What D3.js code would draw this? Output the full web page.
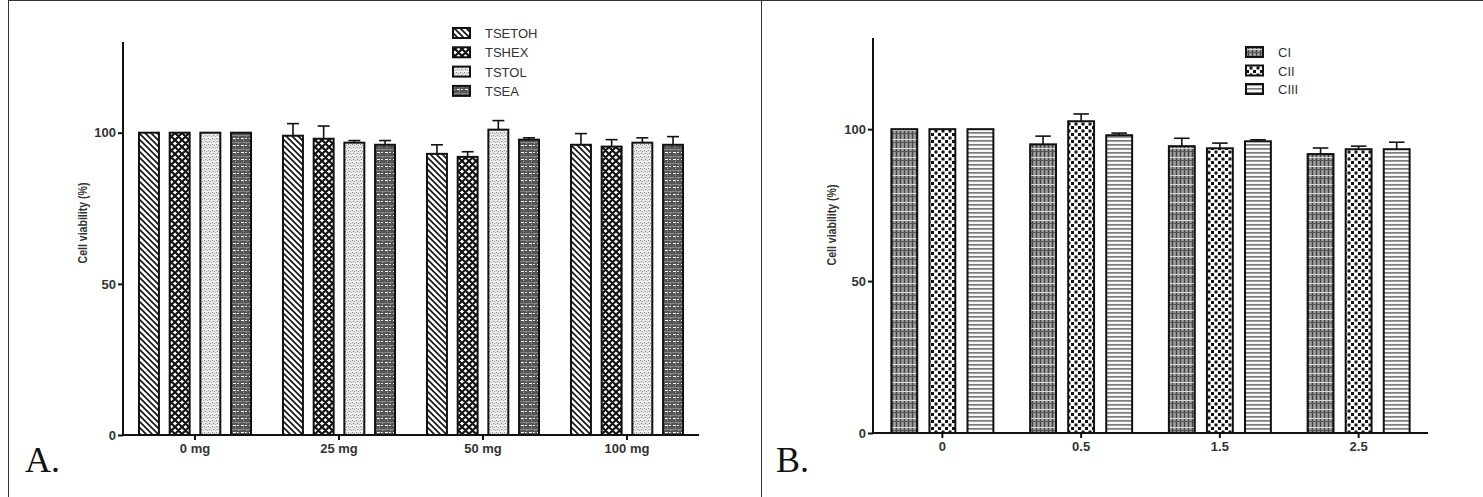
<!DOCTYPE html>
<html><head><meta charset="utf-8">
<script src="https://cdn.jsdelivr.net/npm/d3@7/dist/d3.min.js"></script>
<style>body{margin:0;background:#fff;}svg{display:block;}</style>
</head><body>
<svg id="chart" width="1483" height="497"></svg>
<script>
// ---- Panel A data ----
const groupsA = ["0 mg", "25 mg", "50 mg", "100 mg"];
const seriesA = ["TSETOH", "TSHEX", "TSTOL", "TSEA"];
const tsetohMean = [100, 99, 93, 96];
const tsetohErr  = [0, 4, 3, 3.7];
const tshexMean  = [100, 98, 92, 95.4];
const tshexErr   = [0, 4.2, 1.7, 2.3];
const tstolMean  = [100, 96.7, 101, 96.7];
const tstolErr   = [0, 0.7, 3, 1.6];
const tseaMean   = [100, 96, 97.7, 96];
const tseaErr    = [0, 1.4, 0.6, 2.7];
// ---- Panel B data ----
const groupsB = ["0", "0.5", "1.5", "2.5"];
const seriesB = ["CI", "CII", "CIII"];
const ciMean   = [100, 95, 94.4, 91.8];
const ciErr    = [0, 2.7, 2.6, 2];
const ciiMean  = [100, 102.6, 93.7, 93.4];
const ciiErr   = [0, 2.4, 1.7, 1];
const ciiiMean = [100, 98, 96, 93.4];
const ciiiErr  = [0, 0.7, 0.5, 2.3];
const yTicks = [0, 50, 100];
const yLabel = "Cell viability (%)";

const svg = d3.select("#chart");
const defs = svg.append("defs");
const FONT = "Liberation Sans, Arial, sans-serif";

function pat(id, w, h, build) {
  const p = defs.append("pattern").attr("id", id).attr("patternUnits", "userSpaceOnUse")
    .attr("width", w).attr("height", h);
  build(p);
}
function px(p, x, y, w, h, c) {
  p.append("rect").attr("x", x).attr("y", y).attr("width", w).attr("height", h).attr("fill", c);
}
// TSETOH: diagonal "\" lines
pat("p-tsetoh", 6, 6, p => {
  px(p, 0, 0, 6, 6, "#fff");
  p.append("path").attr("d", "M-1,-1 L7,7 M-1,5 L1,7 M5,-1 L7,1").attr("stroke", "#111").attr("stroke-width", 1.6);
});
// TSHEX: crosshatch diamonds
pat("p-tshex", 7, 7, p => {
  px(p, 0, 0, 7, 7, "#fff");
  p.append("path").attr("d", "M-1,-1 L8,8 M-1,6 L1,8 M6,-1 L8,1 M8,-1 L-1,8 M1,-1 L-1,1 M8,6 L6,8")
    .attr("stroke", "#111").attr("stroke-width", 2.2);
});
// TSTOL: light grey fine dots
pat("p-tstol", 4, 6, p => {
  px(p, 0, 0, 4, 6, "#e4e4e4");
  px(p, 0, 0, 1, 1, "#8a8a8a");
  px(p, 2, 1, 1, 1, "#a0a0a0");
  px(p, 1, 3, 1, 1, "#909090");
  px(p, 3, 4, 1, 1, "#b0b0b0");
  px(p, 0, 5, 4, 1, "#f6f6f6");
});
// TSEA: dark grey with white dashes
pat("p-tsea", 8, 7, p => {
  px(p, 0, 0, 8, 7, "#555");
  px(p, 0, 2, 8, 1, "#888");
  px(p, 1, 5, 3, 1, "#fff");
  px(p, 5, 5, 2, 1, "#ddd");
  px(p, 3, 0, 1, 1, "#999");
  px(p, 6, 3, 1, 1, "#999");
});
// CI: grey grid with light bands
pat("p-ci", 4, 9, p => {
  px(p, 0, 0, 4, 9, "#858585");
  px(p, 0, 0, 1, 9, "#454545");
  px(p, 2, 0, 1, 9, "#a5a5a5");
  px(p, 0, 4, 4, 1, "#d8d8d8");
  px(p, 0, 7, 4, 1, "#555");
});
// CII: checker dots
pat("p-cii", 7, 7, p => {
  px(p, 0, 0, 7, 7, "#fff");
  px(p, 0, 0, 3, 3, "#111");
  px(p, 3.5, 3.5, 3, 3, "#111");
});
// CIII: horizontal stripes
pat("p-ciii", 4, 4, p => {
  px(p, 0, 0, 4, 4, "#f8f8f8");
  px(p, 0, 0, 4, 1.7, "#7c7c7c");
});

// Frame
svg.append("line").attr("x1", 8.5).attr("x2", 8.5).attr("y1", 0).attr("y2", 497).attr("stroke", "#333").attr("stroke-width", 1);
svg.append("line").attr("x1", 761.5).attr("x2", 761.5).attr("y1", 0).attr("y2", 497).attr("stroke", "#333").attr("stroke-width", 1);
svg.append("line").attr("x1", 8).attr("x2", 1483).attr("y1", 0.5).attr("y2", 0.5).attr("stroke", "#333").attr("stroke-width", 1);

function panel(cfg) {
  const g = svg.append("g");
  const y = d3.scaleLinear().domain([0, 130]).range([cfg.y0, cfg.yTop]);
  const x = d3.scaleBand().domain(cfg.groups).range([cfg.x0, cfg.x1]).padding(0);
  const xs = d3.scaleBand().domain(cfg.series).range([-cfg.half, cfg.half]).paddingInner(cfg.pad);

  cfg.series.forEach((s, si) => {
    const means = cfg.means[si], errs = cfg.errs[si];
    const bg = g.append("g");
    cfg.groups.forEach((grp, gi) => {
      const bx = x(grp) + x.bandwidth() / 2 + xs(s);
      const bw = xs.bandwidth();
      const top = y(means[gi]);
      if (errs[gi] > 0) {
        const cx = bx + bw / 2, ey = y(means[gi] + errs[gi]);
        bg.append("line").attr("x1", cx).attr("x2", cx).attr("y1", top).attr("y2", ey).attr("stroke", "#111").attr("stroke-width", 1.6);
        bg.append("line").attr("x1", cx - bw * 0.3).attr("x2", cx + bw * 0.3).attr("y1", ey).attr("y2", ey).attr("stroke", "#111").attr("stroke-width", 1.6);
      }
      bg.append("rect").attr("x", bx).attr("y", top).attr("width", bw).attr("height", y(0) - top)
        .attr("fill", "url(#" + cfg.pats[si] + ")").attr("stroke", "#111").attr("stroke-width", 2);
    });
  });

  // y axis
  const ya = g.append("g").attr("transform", `translate(${cfg.x0},0)`)
    .call(d3.axisLeft(y).tickValues(yTicks).tickSize(5).tickPadding(2));
  ya.select(".domain").attr("d", `M0,${cfg.yTop}V${cfg.y0}`).attr("stroke", "#111").attr("stroke-width", 2);
  ya.selectAll(".tick line").attr("stroke", "#111").attr("stroke-width", 2);
  ya.selectAll(".tick text").attr("font-family", FONT).attr("font-weight", "bold")
    .attr("font-size", 13).attr("fill", "#333");
  // x axis
  const xa = g.append("g").attr("transform", `translate(0,${cfg.y0})`)
    .call(d3.axisBottom(x).tickSize(5).tickPadding(4));
  xa.select(".domain").attr("d", `M${cfg.x0},0H${cfg.x1}`).attr("stroke", "#111").attr("stroke-width", 2);
  xa.selectAll(".tick line").attr("stroke", "#111").attr("stroke-width", 2);
  xa.selectAll(".tick text").attr("font-family", FONT).attr("font-weight", "bold")
    .attr("font-size", 13).attr("fill", "#333");

  // y label
  g.append("text").attr("transform", `translate(${cfg.labelX},${cfg.labelY}) rotate(-90)`)
    .attr("text-anchor", "middle").attr("font-family", FONT).attr("font-weight", "bold")
    .attr("font-size", 12).attr("textLength", 81).attr("lengthAdjust", "spacingAndGlyphs")
    .attr("fill", "#333").text(yLabel);

  // legend
  cfg.series.forEach((s, si) => {
    const ly = cfg.legY + si * cfg.legStep;
    g.append("rect").attr("x", cfg.legX).attr("y", ly - 5).attr("width", 17).attr("height", 10)
      .attr("fill", "url(#" + cfg.pats[si] + ")").attr("stroke", "#111").attr("stroke-width", 2);
    g.append("text").attr("x", cfg.legX + 32).attr("y", ly + 5).attr("font-family", FONT)
      .attr("font-size", 13).attr("fill", "#333").text(s);
  });

  // panel letter
  g.append("text").attr("x", cfg.letterX).attr("y", 472).attr("font-family", "Liberation Serif, Times New Roman, serif")
    .attr("font-size", 36).attr("fill", "#111").text(cfg.letter);
}

panel({
  groups: groupsA, series: seriesA,
  means: [tsetohMean, tshexMean, tstolMean, tseaMean],
  errs: [tsetohErr, tshexErr, tstolErr, tseaErr],
  pats: ["p-tsetoh", "p-tshex", "p-tstol", "p-tsea"],
  x0: 123, x1: 699, y0: 435, yTop: 42, half: 56, pad: 0.35,
  labelX: 87, labelY: 223, legX: 453, legY: 33, legStep: 19.3, letter: "A.", letterX: 25
});
panel({
  groups: groupsB, series: seriesB,
  means: [ciMean, ciiMean, ciiiMean],
  errs: [ciErr, ciiErr, ciiiErr],
  pats: ["p-ci", "p-cii", "p-ciii"],
  x0: 873, x1: 1428, y0: 433, yTop: 38, half: 51, pad: 0.32,
  labelX: 836, labelY: 225, legX: 1246, legY: 52, legStep: 18.5, letter: "B.", letterX: 776
});
</script>
</body></html>
